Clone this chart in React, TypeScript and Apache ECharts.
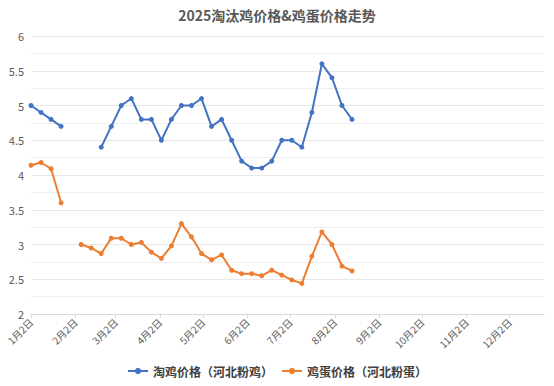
import React, { useEffect, useRef } from "react";
import * as echarts from "echarts";

const TITLE = "2025淘汰鸡价格&鸡蛋价格走势";
const SERIES_NAMES = ["淘鸡价格（河北粉鸡）", "鸡蛋价格（河北粉蛋）"];

// weekly observation dates
const weekDates = [
  "1月2日", "1月9日", "1月16日", "1月23日", "1月30日",
  "2月6日", "2月13日", "2月20日", "2月27日",
  "3月6日", "3月13日", "3月20日", "3月27日",
  "4月3日", "4月10日", "4月17日", "4月24日",
  "5月1日", "5月8日", "5月15日", "5月22日", "5月29日",
  "6月5日", "6月12日", "6月19日", "6月26日",
  "7月3日", "7月10日", "7月17日", "7月24日", "7月31日",
  "8月7日", "8月14日",
];

const henPrice: (number | null)[] = [
  5.0, 4.9, 4.8, 4.7, null,
  null, null, 4.4, 4.7,
  5.0, 5.1, 4.8, 4.8,
  4.5, 4.8, 5.0, 5.0,
  5.1, 4.7, 4.8, 4.5, 4.2,
  4.1, 4.1, 4.2, 4.5,
  4.5, 4.4, 4.9, 5.6, 5.4,
  5.0, 4.8,
];

const eggPrice: (number | null)[] = [
  4.14, 4.18, 4.09, 3.6, null,
  3.0, 2.95, 2.87, 3.09,
  3.09, 3.0, 3.03, 2.89,
  2.8, 2.98, 3.3, 3.11,
  2.87, 2.78, 2.85, 2.63, 2.58,
  2.58, 2.55, 2.63, 2.56,
  2.49, 2.44, 2.83, 3.18, 3.0,
  2.69, 2.62,
];

const Y_MIN = 2;
const Y_MAX = 6;
const Y_INTERVAL = 0.5;

// daily axis from 1月2日 to 12月26日
const AXIS_START = [2025, 0, 2];
const AXIS_END = [2025, 11, 26];
function buildDays(): string[] {
  const out: string[] = [];
  const d = new Date(AXIS_START[0], AXIS_START[1], AXIS_START[2]);
  const end = new Date(AXIS_END[0], AXIS_END[1], AXIS_END[2]);
  while (d <= end) {
    out.push(`${d.getMonth() + 1}月${d.getDate()}日`);
    d.setDate(d.getDate() + 1);
  }
  return out;
}
const dayCategories = buildDays();
const isMonthTick = (_i: number, v: string) => /^\d+月2日$/.test(v);

const FONT = "'Noto Sans CJK SC', 'Microsoft YaHei', sans-serif";

export default function App() {
  const ref = useRef<HTMLDivElement>(null);
  useEffect(() => {
    if (!ref.current) return;
    const chart = echarts.init(ref.current, null, { renderer: "svg" });
    const mk = (vals: (number | null)[]) =>
      weekDates.map((d, i) => [d, vals[i] == null ? "-" : vals[i]]);
    chart.setOption({
      animation: false,
      backgroundColor: "#ffffff",
      textStyle: { fontFamily: FONT },
      title: {
        text: TITLE,
        left: "center",
        top: 3,
        textStyle: { fontSize: 14, fontWeight: "bold", color: "#595959", fontFamily: FONT },
      },
      legend: {
        bottom: 4,
        left: "center",
        itemWidth: 20,
        itemHeight: 8,
        itemGap: 8,
        textStyle: { fontSize: 12, color: "#404040", fontWeight: "bold", fontFamily: FONT },
        data: SERIES_NAMES,
      },
      grid: { left: 31, right: 10, top: 36, bottom: 72, containLabel: false },
      xAxis: {
        type: "category",
        boundaryGap: false,
        data: dayCategories,
        axisLine: { show: true, lineStyle: { color: "#d9d9d9" } },
        axisTick: { show: true, interval: isMonthTick, length: 4, lineStyle: { color: "#d9d9d9" } },
        axisLabel: {
          interval: isMonthTick,
          rotate: 45,
          fontSize: 10,
          color: "#595959",
          margin: 6,
          fontFamily: FONT,
        },
        splitLine: { show: false },
      },
      yAxis: {
        type: "value",
        min: Y_MIN,
        max: Y_MAX,
        interval: Y_INTERVAL,
        axisLine: { show: false },
        axisTick: { show: false },
        axisLabel: { fontSize: 11, color: "#595959", margin: 7, fontFamily: FONT },
        splitLine: { show: true, lineStyle: { color: "#e8e8e8" } },
        minorTick: { show: false, splitNumber: 2 },
        minorSplitLine: { show: true, lineStyle: { color: "#eeeeee" } },
      },
      series: [
        {
          name: SERIES_NAMES[0],
          type: "line",
          data: mk(henPrice),
          symbol: "circle",
          symbolSize: 5,
          showAllSymbol: true,
          connectNulls: false,
          lineStyle: { width: 2, color: "#4472C4" },
          itemStyle: { color: "#4472C4" },
        },
        {
          name: SERIES_NAMES[1],
          type: "line",
          data: mk(eggPrice),
          symbol: "circle",
          symbolSize: 5,
          showAllSymbol: true,
          connectNulls: false,
          lineStyle: { width: 2, color: "#ED7D31" },
          itemStyle: { color: "#ED7D31" },
        },
      ],
    });
    return () => chart.dispose();
  }, []);
  return <div ref={ref} style={{ width: 554, height: 386, position: "absolute", left: 0, top: 0 }} />;
}
